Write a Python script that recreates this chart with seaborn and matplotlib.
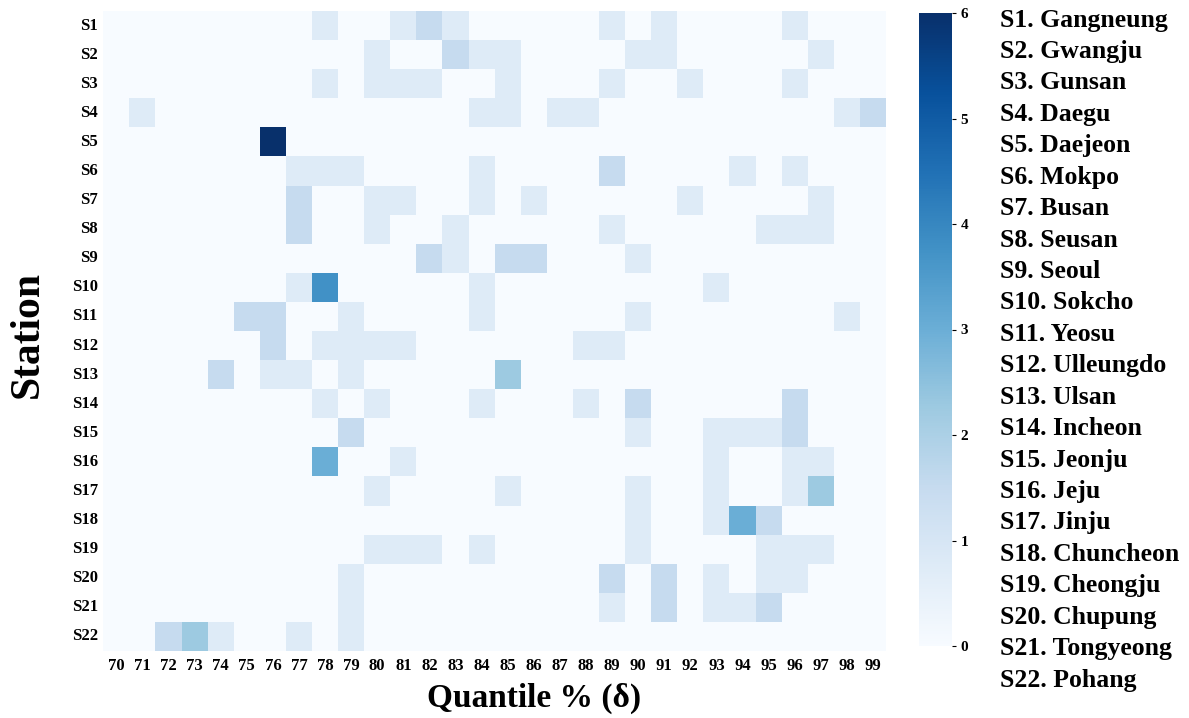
import numpy as np
import pandas as pd
import seaborn as sns
import matplotlib.pyplot as plt

plt.rcParams['font.family'] = 'Liberation Serif'
plt.rcParams['font.weight'] = 'bold'

# Data
stations = ['S%d' % i for i in range(1, 23)]
names = ['Gangneung', 'Gwangju', 'Gunsan', 'Daegu', 'Daejeon', 'Mokpo', 'Busan',
         'Seusan', 'Seoul', 'Sokcho', 'Yeosu', 'Ulleungdo', 'Ulsan', 'Incheon',
         'Jeonju', 'Jeju', 'Jinju', 'Chuncheon', 'Cheongju', 'Chupung',
         'Tongyeong', 'Pohang']
quantiles = list(range(70, 100))

# non-zero cells only: quantile -> value
s1 = {78: 0.75, 81: 0.75, 82: 1.5, 83: 0.75, 89: 0.75, 91: 0.75, 96: 0.75}
s2 = {80: 0.75, 83: 1.5, 84: 0.75, 85: 0.75, 90: 0.75, 91: 0.75, 97: 0.75}
s3 = {78: 0.75, 80: 0.75, 81: 0.75, 82: 0.75, 85: 0.75, 89: 0.75, 92: 0.75, 96: 0.75}
s4 = {71: 0.75, 84: 0.75, 85: 0.75, 87: 0.75, 88: 0.75, 98: 0.75, 99: 1.5}
s5 = {76: 6.0}
s6 = {77: 0.75, 78: 0.75, 79: 0.75, 84: 0.75, 89: 1.5, 94: 0.75, 96: 0.75}
s7 = {77: 1.5, 80: 0.75, 81: 0.75, 84: 0.75, 86: 0.75, 92: 0.75, 97: 0.75}
s8 = {77: 1.5, 80: 0.75, 83: 0.75, 89: 0.75, 95: 0.75, 96: 0.75, 97: 0.75}
s9 = {82: 1.5, 83: 0.75, 85: 1.5, 86: 1.5, 90: 0.75}
s10 = {77: 0.75, 78: 3.75, 84: 0.75, 93: 0.75}
s11 = {75: 1.5, 76: 1.5, 79: 0.75, 84: 0.75, 90: 0.75, 98: 0.75}
s12 = {76: 1.5, 78: 0.75, 79: 0.75, 80: 0.75, 81: 0.75, 88: 0.75, 89: 0.75}
s13 = {74: 1.5, 76: 0.75, 77: 0.75, 79: 0.75, 85: 2.25}
s14 = {78: 0.75, 80: 0.75, 84: 0.75, 88: 0.75, 90: 1.5, 96: 1.5}
s15 = {79: 1.5, 90: 0.75, 93: 0.75, 94: 0.75, 95: 0.75, 96: 1.5}
s16 = {78: 3.0, 81: 0.75, 93: 0.75, 96: 0.75, 97: 0.75}
s17 = {80: 0.75, 85: 0.75, 90: 0.75, 93: 0.75, 96: 0.75, 97: 2.25}
s18 = {90: 0.75, 93: 0.75, 94: 3.0, 95: 1.5}
s19 = {80: 0.75, 81: 0.75, 82: 0.75, 84: 0.75, 90: 0.75, 95: 0.75, 96: 0.75, 97: 0.75}
s20 = {79: 0.75, 89: 1.5, 91: 1.5, 93: 0.75, 95: 0.75, 96: 0.75}
s21 = {79: 0.75, 89: 0.75, 91: 1.5, 93: 0.75, 94: 0.75, 95: 1.5}
s22 = {72: 1.5, 73: 2.25, 74: 0.75, 77: 0.75, 79: 0.75}

rows = [s1, s2, s3, s4, s5, s6, s7, s8, s9, s10, s11, s12, s13, s14, s15,
        s16, s17, s18, s19, s20, s21, s22]
df = pd.DataFrame([[r.get(q, 0) for q in quantiles] for r in rows],
                  index=stations, columns=quantiles)

fig = plt.figure(figsize=(11.89, 7.18), dpi=100)
ax = fig.add_axes([103.3 / 1189, 67 / 718, 782.7 / 1189, 640 / 718])
cax = fig.add_axes([919 / 1189, 72 / 718, 33 / 1189, 633 / 718])

sns.heatmap(df, cmap='Blues', vmin=0, vmax=6, ax=ax, cbar_ax=cax)

ax.tick_params(axis='both', length=0, labelsize=12)
ax.tick_params(axis='y', pad=4)
ax.tick_params(axis='x', pad=5)
plt.setp(ax.get_yticklabels(), rotation=0, fontweight='bold')
plt.setp(ax.get_xticklabels(), rotation=0, fontweight='bold')

ax.set_xlabel('Quantile % (δ)', fontsize=24, fontweight='bold')
ax.xaxis.set_label_coords(0.55, -0.05)
ax.set_ylabel('')
fig.text(28 / 1189, 1 - 334 / 718, 'Station', rotation=90, ha='center',
         va='center', fontsize=30, fontweight='bold')

cb = ax.collections[0].colorbar
cb.outline.set_visible(False)
cb.set_ticks([0, 1, 2, 3, 4, 5, 6])
cax.tick_params(labelsize=11, length=3, width=0.8, pad=3)
plt.setp(cax.get_yticklabels(), fontweight='bold')

# station name list on the right
for i, (s, n) in enumerate(zip(stations, names)):
    y = 20 + i * 31.43
    fig.text(1000 / 1189, 1 - y / 718, '%s. %s' % (s, n), ha='left',
             va='center', fontsize=18.5, fontweight='bold')

plt.savefig('out.png', dpi=100)
